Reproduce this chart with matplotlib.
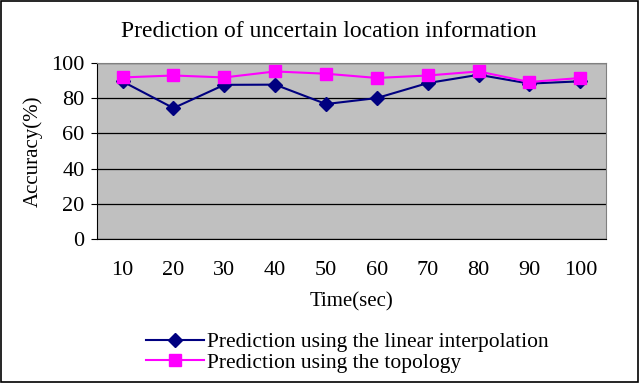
import matplotlib
matplotlib.use("Agg")
import matplotlib.pyplot as plt
from matplotlib.patches import Rectangle

times = [10, 20, 30, 40, 50, 60, 70, 80, 90, 100]
linear_acc = [89.4, 74.3, 87.5, 87.6, 76.6, 80.0, 88.5, 93.2, 88.2, 89.5]
topology_acc = [91.7, 92.8, 91.7, 95.1, 93.8, 91.4, 92.8, 95.1, 89.1, 91.4]
y_ticks = [0, 20, 40, 60, 80, 100]

plt.rcParams['font.family'] = ['Liberation Serif', 'DejaVu Serif']

fig = plt.figure(figsize=(6.39, 3.83), dpi=100)
fig.patches.append(Rectangle((0.002, 0.003), 0.996, 0.994, transform=fig.transFigure,
                             fill=False, edgecolor='black', linewidth=1.2))

ax = fig.add_axes([0.152, 0.376, 0.796, 0.46])
ax.set_facecolor('#c0c0c0')
pos = list(range(len(times)))
ax.plot(pos, linear_acc, color='#000080', marker='D', markersize=7, linewidth=1.5,
        label='Prediction using the linear interpolation')
ax.plot(pos, topology_acc, color='#ff00ff', marker='s', markersize=9, linewidth=1.5,
        label='Prediction using the topology')

ax.set_xlim(-0.5, len(times) - 0.5)
ax.set_ylim(0, 100)
ax.set_yticks(y_ticks)
ax.set_xticks(pos)
ax.set_xticklabels([str(t) for t in times])
ax.tick_params(axis='x', length=0, pad=16, labelsize=16)
ax.tick_params(axis='y', length=4, direction='out', pad=5, labelsize=16)
ax.grid(axis='y', color='black', linewidth=0.9)
ax.set_axisbelow(True)
for side in ['top', 'right']:
    ax.spines[side].set_color('#808080')
for side in ['left', 'bottom']:
    ax.spines[side].set_color('black')

ax.set_xlabel('Time(sec)', fontsize=15, labelpad=9)
ax.set_ylabel('Accuracy(%)', fontsize=15, labelpad=6)
fig.text(0.515, 0.917, 'Prediction of uncertain location information',
         ha='center', va='center', fontsize=17)

fig.legend(loc='lower left', bbox_to_anchor=(0.205, -0.012), frameon=False, fontsize=15.5,
           handlelength=2.7, handletextpad=0.15, labelspacing=0.0, borderaxespad=0.3)

fig.savefig('out.png', dpi=100)
